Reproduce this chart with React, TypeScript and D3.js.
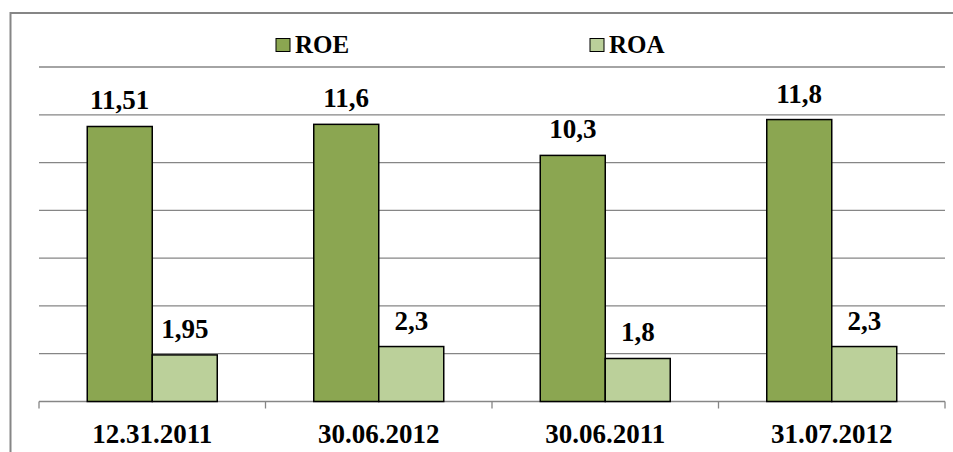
import React from "react";
import * as d3 from "d3";

const categories = ["12.31.2011", "30.06.2012", "30.06.2011", "31.07.2012"];
const seriesNames = ["ROE", "ROA"];
const roeValues = [11.51, 11.6, 10.3, 11.8];
const roaValues = [1.95, 2.3, 1.8, 2.3];
const valueLabels = [
  ["11,51", "11,6", "10,3", "11,8"],
  ["1,95", "2,3", "1,8", "2,3"],
];
const yTicks = [0, 2, 4, 6, 8, 10, 12, 14];
const colors = ["#8BA651", "#BBD09A"];

export default function App() {
  const W = 953, H = 452;
  const left = 39, right = 945, top = 67, bottom = 401.5;
  const font = "'Times New Roman', 'Liberation Serif', serif";

  const x = d3.scaleBand<string>().domain(categories).range([left, right]);
  const y = d3.scaleLinear().domain([0, 14]).range([bottom, top]);
  const barW = 65;
  const series = [roeValues, roaValues];

  return (
    <svg width={W} height={H} style={{ position: "absolute", left: 0, top: 0, background: "#fff", fontFamily: font }}>
      <rect x={10.5} y={13} width={950} height={460} fill="#fff" stroke="#868686" strokeWidth={2} />
      {yTicks.slice(1).map((t) => (
        <line key={t} x1={left} x2={right} y1={y(t)} y2={y(t)} stroke="#868686" strokeWidth={1.3} />
      ))}
      <line x1={left} x2={right} y1={bottom} y2={bottom} stroke="#868686" strokeWidth={1.3} />
      {[...categories.map((c) => x(c) as number), right].map((tx, i) => (
        <line key={i} x1={tx} x2={tx} y1={bottom} y2={bottom + 7} stroke="#868686" strokeWidth={1.3} />
      ))}
      {categories.map((c, i) => {
        const cx = (x(c) as number) + x.bandwidth() / 2;
        return (
          <g key={c}>
            {series.map((vals, s) => {
              const bx = cx - barW + s * barW;
              const by = y(vals[i]);
              return (
                <g key={s}>
                  <rect x={bx} y={by} width={barW} height={bottom - by} fill={colors[s]} stroke="#000" strokeWidth={1.5} />
                  <text x={bx + barW / 2} y={by - 17} textAnchor="middle" style={{ fontFamily: font, fontWeight: 700, fontSize: 27 }} fill="#000">
                    {valueLabels[s][i]}
                  </text>
                </g>
              );
            })}
            <text x={cx} y={443} textAnchor="middle" style={{ fontFamily: font, fontWeight: 700, fontSize: 27 }} fill="#000">
              {c}
            </text>
          </g>
        );
      })}
      {seriesNames.map((n, s) => {
        const lx = s === 0 ? 276 : 590;
        return (
          <g key={n}>
            <rect x={lx} y={38.5} width={14} height={13} fill={colors[s]} stroke="#000" strokeWidth={1} />
            <text x={lx + 19} y={53} style={{ fontFamily: font, fontWeight: 700, fontSize: 25 }} fill="#000">
              {n}
            </text>
          </g>
        );
      })}
    </svg>
  );
}
